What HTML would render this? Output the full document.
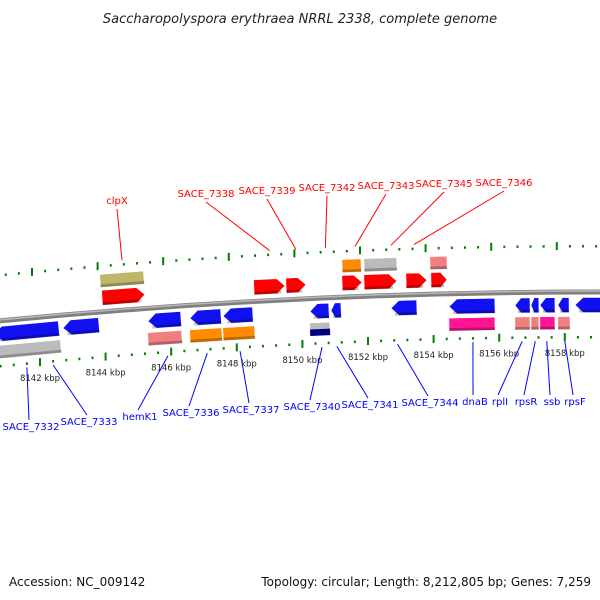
<!DOCTYPE html>
<html><head><meta charset="utf-8"><style>
html,body{margin:0;padding:0;background:#fff}
svg{display:block}
text{font-family:"DejaVu Sans","Liberation Sans",sans-serif}
</style></head><body>
<svg id="c" width="600" height="600" viewBox="0 0 600 600" xmlns="http://www.w3.org/2000/svg">
<text x="300" y="23" text-anchor="middle" font-size="13" font-style="italic" fill="#222">Saccharopolyspora erythraea NRRL 2338, complete genome</text>
<text x="9" y="586" font-size="12" fill="#111">Accession: NC_009142</text>
<text x="591" y="586" text-anchor="end" font-size="12" fill="#111">Topology: circular; Length: 8,212,805 bp; Genes: 7,259</text>
<g id="ticks"></g><g id="bb"></g><g id="genes"></g><g id="labels"></g>
</svg>
<script>
// ---- data ----
const geneStarts = [8140.6,8142.70,8143.83,8143.89,8140.6,8145.29,8146.57,8147.58,8145.29,8146.57,8147.58,8148.52,8149.50,8150.23,8150.87,8150.23,8151.21,8151.21,8151.88,8151.88,8152.70,8153.16,8153.92,8153.89,8154.47,8154.47,8156.48,8156.97,8157.24,8157.79,8158.31,8156.48,8156.97,8157.24,8157.79];
const geneEnds   = [8142.58,8143.80,8145.17,8145.20,8142.64,8146.30,8147.52,8148.49,8146.33,8147.55,8148.55,8149.47,8150.11,8150.81,8151.18,8150.84,8151.79,8151.82,8152.88,8152.88,8153.49,8153.80,8154.41,8154.41,8155.87,8155.87,8156.94,8157.21,8157.70,8158.13,8159.6,8156.94,8157.21,8157.70,8158.16];
const geneTracks = [-1,-1,2,1,-2,-1,-1,-1,-2,-2,-2,1,1,-1,-1,-2,2,1,2,1,-1,1,1,2,-1,-2,-1,-1,-1,-1,-1,-2,-2,-2,-2];
const geneColors = ["#1010f0","#1010f0","#bdb76b","#f00","#bbb","#1010f0","#1010f0","#1010f0","#f08080","#ff8c00","#ff8c00","#f00","#f00","#1010f0","#1010f0","#navy","#ff8c00","#f00","#bbb","#f00","#1010f0","#f00","#f00","#f08080","#1010f0","#ff1493","#1010f0","#1010f0","#1010f0","#1010f0","#1010f0","#f08080","#f08080","#ff1493","#f08080"];
const tickStart = 8140.4, tickEnd = 8159.6, tickStep = 0.4;
const kbpLabels = [8142,8144,8146,8148,8150,8152,8154,8156,8158];
const topNames = ["clpX","SACE_7338","SACE_7339","SACE_7342","SACE_7343","SACE_7345","SACE_7346"];
const topTargets = [8144.5,8149.0,8149.8,8150.7,8151.6,8152.7,8153.4];
const botNames = ["SACE_7332","SACE_7333","hemK1","SACE_7336","SACE_7337","SACE_7340","SACE_7341","SACE_7344","dnaB","rplI","rpsR","ssb","rpsF"];
const botTargets = [8141.6,8142.4,8145.9,8147.1,8148.1,8150.6,8151.05,8152.9,8155.2,8156.7,8157.1,8157.45,8158.0];

// ---- axes ----
const X = k => 40 + (k-8142)*32.8;
const BY = x => {const t=x/600; return (1-t)*(1-t)*321 + 2*t*(1-t)*291.5 + t*t*292;};
const ANG = x => {const t=x/600; return Math.atan((-59*(1-t)+t)/600)*180/Math.PI;};
const NS="http://www.w3.org/2000/svg";
function mk(tag,attrs,parent){const e=document.createElementNS(NS,tag);for(const k in attrs)e.setAttribute(k,attrs[k]);parent.appendChild(e);return e;}

// backbone
const bb=document.getElementById('bb');
const p1=mk('path',{d:'M-5,321.3 Q300,291.5 605,292',fill:'none',stroke:'#808080','stroke-width':5},bb);


mk('path',{d:'M-5,320.3 Q300,290.5 605,291',fill:'none',stroke:'#b8b8b8','stroke-width':1.5},bb);

// ticks
const tg=document.getElementById('ticks');
for(let k=tickStart;k<=tickEnd+1e-6;k+=tickStep){
  const kr=Math.round(k*10)/10;
  const major=Math.abs(kr/2-Math.round(kr/2))<1e-6;
  [[-46,-8],[45,0]].forEach(([off,dx])=>{
    const x=X(kr)+dx, y=BY(x)+off;
    const r=mk('rect',{x:x-1,y:major?y-4:y-1,width:2,height:major?8:2.5,fill:'#008000'},tg);
    
    
  });
}
kbpLabels.forEach(k=>{
  const x=X(k), y=BY(x)+45+19;
  const t=mk('text',{x:x,y:y,'text-anchor':'middle','font-size':8.5,fill:'#222'},tg);
  t.textContent=k+' kbp';
  
  
});

// genes
const gg=document.getElementById('genes');
const offs={1:-14,2:-31,'-1':13,'-2':31};
geneStarts.forEach((s,i)=>{
  const x0=X(s), x1=X(geneEnds[i]), tr=geneTracks[i];
  const cx=(x0+x1)/2, cy=BY(cx)+offs[tr], w=x1-x0, h=tr*tr===1?15:13;
  let col=geneColors[i]; if(col==='#navy') col='#bbb';
  const g=mk('g',{transform:`translate(${cx},${cy}) rotate(${ANG(cx)})`},gg);
  
  
  const hw=w/2, hh=h/2, a=Math.min(8,w*0.4);
  let pts;
  if(Math.abs(tr)===1){
    if(tr>0) pts=`${-hw},${-hh} ${hw-a},${-hh} ${hw},0 ${hw-a},${hh} ${-hw},${hh}`;
    else pts=`${hw},${-hh} ${-hw+a},${-hh} ${-hw},0 ${-hw+a},${hh} ${hw},${hh}`;
  } else pts=`${-hw},${-hh} ${hw},${-hh} ${hw},${hh} ${-hw},${hh}`;
  mk('polygon',{points:pts,fill:col,stroke:'#fff','stroke-width':0.6},g);
  if(geneColors[i]==='#navy') mk('rect',{x:-hw,y:0,width:w,height:hh,fill:'#000080'},g);
  else mk('rect',{x:-hw+(tr===-1?a*0.5:0),y:hh-3,width:w-(Math.abs(tr)===1?a*0.5:0),height:3,fill:'#000',opacity:0.25},g);
});

// labels
const lg=document.getElementById('labels');
const topTx=[117,206,267,327,386,444,504], topTy=[204,197,194,191,189,187,186];
topNames.forEach((n,i)=>{
  const gx=X(topTargets[i]), gy=BY(gx)-50;
  const l=mk('line',{x1:topTx[i],y1:topTy[i]+5,x2:gx,y2:gy,stroke:'#f00','stroke-width':1},lg);
  
  
  const t=mk('text',{x:topTx[i],y:topTy[i],'text-anchor':'middle','font-size':10,fill:'#f00'},lg);
  t.textContent=n;
  
  
});
const botTx=[31,89,140,191,251,312,370,430,475,500,526,552,575], botTy=[430,425,420,416,413,410,408,406,405,405,405,405,405];
botNames.forEach((n,i)=>{
  const gx=X(botTargets[i]), gy=BY(gx)+49;
  const l=mk('line',{x1:gx,y1:gy,x2:botTx[i]-2,y2:botTy[i]-10,stroke:'#00f','stroke-width':1},lg);
  
  
  const t=mk('text',{x:botTx[i],y:botTy[i],'text-anchor':'middle','font-size':10,fill:'#00f'},lg);
  t.textContent=n;
  
  
});
</script>
</body></html>
